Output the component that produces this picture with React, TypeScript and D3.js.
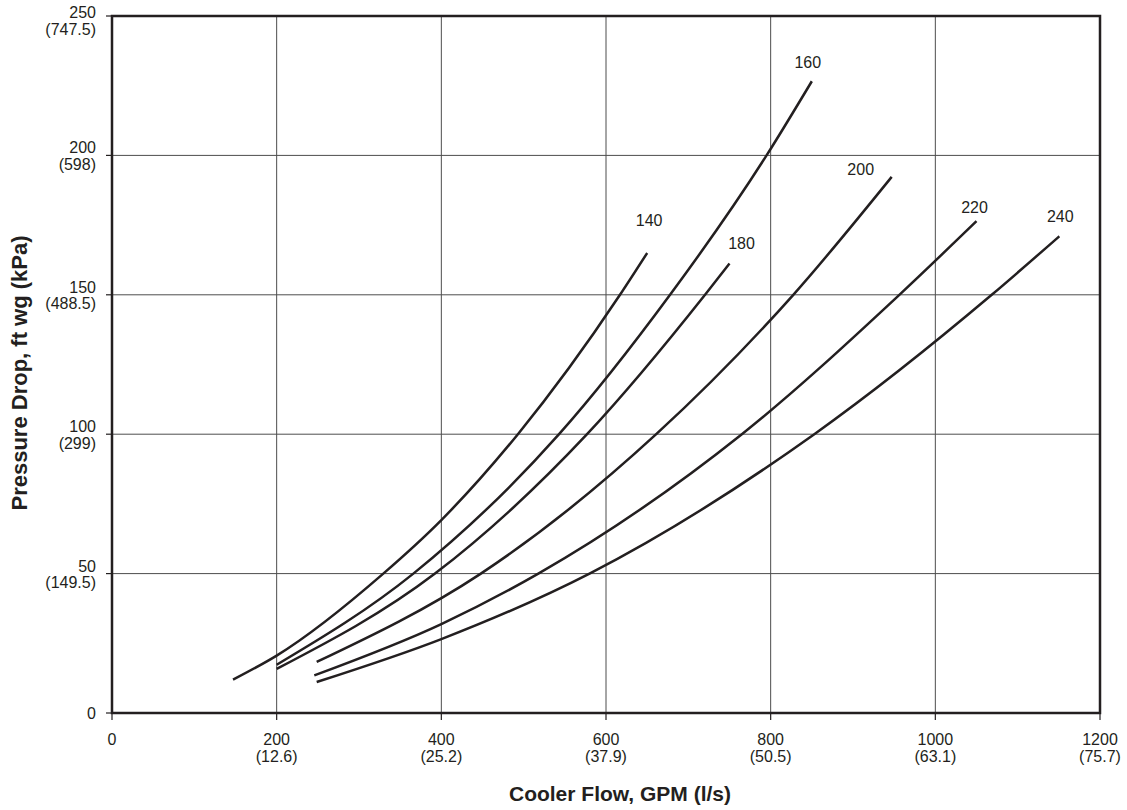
import React from "react";
import * as d3 from "d3";

// ---- Data ----
const xTicks = [0, 200, 400, 600, 800, 1000, 1200];
const xTickSub = ["", "(12.6)", "(25.2)", "(37.9)", "(50.5)", "(63.1)", "(75.7)"];
const yTicks = [0, 50, 100, 150, 200, 250];
const yTickSub = ["", "(149.5)", "(299)", "(488.5)", "(598)", "(747.5)"];

const seriesNames = ["140", "160", "180", "200", "220", "240"];

const curve140: [number, number][] = [
  [147, 12], [200, 20.6], [329.5, 50], [400, 69.2], [493, 100], [617, 150], [650, 165],
];
const curve160: [number, number][] = [
  [200, 17.3], [366, 50], [543, 100], [677.8, 150], [795, 200], [850, 226.6],
];
const curve180: [number, number][] = [
  [200, 15.8], [392.3, 50], [577, 100], [720.3, 150], [750, 161.2],
];
const curve200: [number, number][] = [
  [248.6, 18.3], [448, 50], [661, 100], [827.5, 150], [947, 192.3],
];
const curve220: [number, number][] = [
  [245.7, 13.5], [400, 31.9], [517.8, 50], [765, 100], [956.3, 150], [1050, 176.4],
];
const curve240: [number, number][] = [
  [248.6, 11.1], [400, 26.5], [580, 50], [853, 100], [1068.5, 150], [1150.6, 171],
];

const curves = [curve140, curve160, curve180, curve200, curve220, curve240];

// ---- Layout ----
const W = 1127;
const H = 810;
const left = 112;
const right = 1100;
const top = 16;
const bottom = 713;

const ink = "#231f20";
const gridColor = "#4d4d4d";
const font = "'Liberation Sans', Arial, Helvetica, sans-serif";
const tickFont = 16;

// label offsets (px) relative to curve end point
const labelOffsets: Record<string, [number, number]> = {
  "140": [2, -32],
  "160": [-4, -19],
  "180": [12, -20],
  "200": [-31, -7],
  "220": [-2, -14],
  "240": [1, -20],
};

export default function App() {
  const x = d3.scaleLinear().domain([0, 1200]).range([left, right]);
  const y = d3.scaleLinear().domain([0, 250]).range([bottom, top]);

  const line = d3
    .line<[number, number]>()
    .x((d) => x(d[0]))
    .y((d) => y(d[1]))
    .curve(d3.curveMonotoneX);

  return (
    <svg
      width={W}
      height={H}
      style={{ position: "absolute", left: 0, top: 0, background: "#fff" }}
      fontFamily={font}
    >
      <rect x={0} y={0} width={W} height={H} fill="#fff" />
      {/* grid */}
      {xTicks.slice(1, -1).map((t) => (
        <line key={"gx" + t} x1={x(t)} x2={x(t)} y1={y(250)} y2={y(0)} stroke={gridColor} strokeWidth={1} />
      ))}
      {yTicks.slice(1, -1).map((t) => (
        <line key={"gy" + t} x1={x(0)} x2={x(1200)} y1={y(t)} y2={y(t)} stroke={gridColor} strokeWidth={1} />
      ))}

      {/* curves */}
      {curves.map((c, i) => (
        <path key={"c" + i} d={line(c) || ""} fill="none" stroke={ink} strokeWidth={2.5} strokeLinecap="butt" />
      ))}

      {/* curve labels */}
      {curves.map((c, i) => {
        const end = c[c.length - 1];
        const name = seriesNames[i];
        const off = labelOffsets[name];
        return (
          <text
            key={"l" + i}
            x={x(end[0]) + off[0]}
            y={y(end[1]) + off[1]}
            textAnchor="middle"
            dominantBaseline="central"
            fontSize={16}
            fill={ink}
          >
            {name}
          </text>
        );
      })}

      {/* frame */}
      <rect
        x={x(0)}
        y={y(250)}
        width={x(1200) - x(0)}
        height={y(0) - y(250)}
        fill="none"
        stroke={ink}
        strokeWidth={2.5}
      />

      {/* x ticks */}
      {xTicks.map((t, i) => (
        <g key={"xt" + t}>
          <line x1={x(t)} x2={x(t)} y1={y(0)} y2={y(0) + 7} stroke={ink} strokeWidth={1.2} />
          <text x={x(t)} y={745} textAnchor="middle" fontSize={tickFont} fill={ink}>
            {t}
          </text>
          {xTickSub[i] && (
            <text x={x(t)} y={761.5} textAnchor="middle" fontSize={tickFont} fill={ink}>
              {xTickSub[i]}
            </text>
          )}
        </g>
      ))}

      {/* y ticks */}
      {yTicks.map((t, i) => {
        const ty = y(t);
        const shift = t === 250 ? 4 : 0;
        return (
          <g key={"yt" + t}>
            <line x1={x(0) - 6} x2={x(0)} y1={ty} y2={ty} stroke={ink} strokeWidth={1.2} />
            {yTickSub[i] ? (
              <>
                <text x={96} y={ty - 2 + shift} textAnchor="end" fontSize={tickFont} fill={ink}>
                  {t}
                </text>
                <text x={96} y={ty + 14.5 + shift} textAnchor="end" fontSize={tickFont} fill={ink}>
                  {yTickSub[i]}
                </text>
              </>
            ) : (
              <text x={96} y={ty + 6} textAnchor="end" fontSize={tickFont} fill={ink}>
                {t}
              </text>
            )}
          </g>
        );
      })}

      {/* axis titles */}
      <text x={620} y={801} textAnchor="middle" fontSize={21} fontWeight="bold" fill={ink}>
        Cooler Flow, GPM (l/s)
      </text>
      <text
        transform={`translate(27, 373) rotate(-90)`}
        textAnchor="middle"
        fontSize={22}
        fontWeight="bold"
        fill={ink}
      >
        Pressure Drop, ft wg (kPa)
      </text>
    </svg>
  );
}
